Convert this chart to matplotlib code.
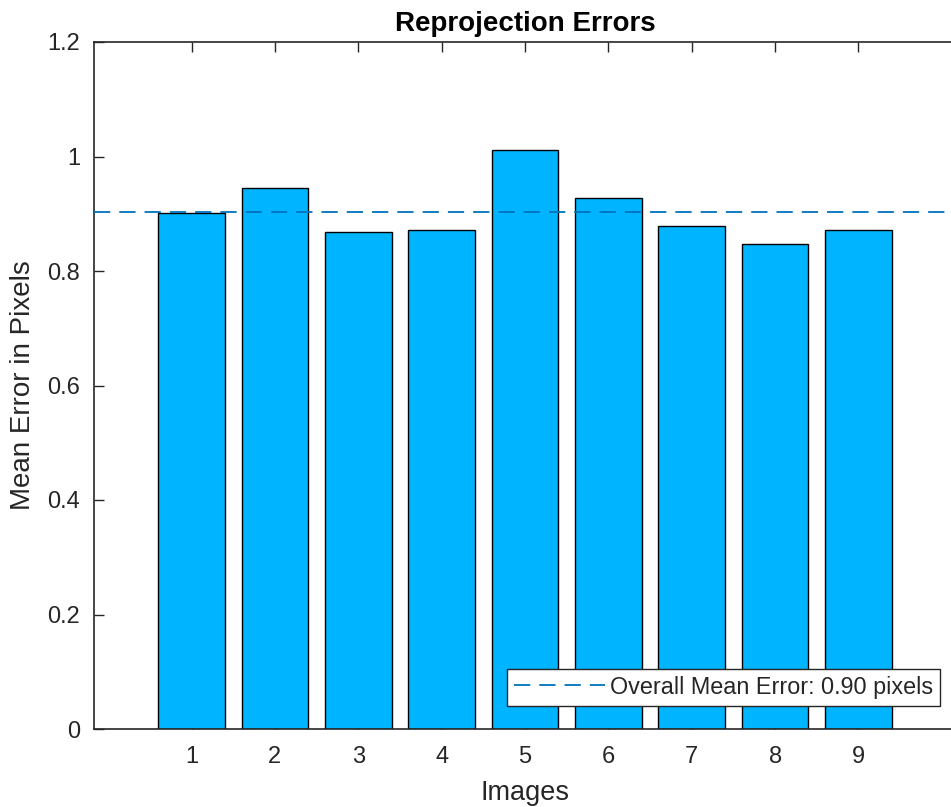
import matplotlib
matplotlib.use("Agg")
import matplotlib.pyplot as plt
from matplotlib.ticker import FuncFormatter

# Erros médios de reprojeção por imagem
imagens = [1, 2, 3, 4, 5, 6, 7, 8, 9]
erros = [0.901, 0.945, 0.868, 0.872, 1.011, 0.927, 0.879, 0.847, 0.872]
erro_medio = 0.903

plt.rcParams['font.family'] = ['Liberation Sans', 'DejaVu Sans']
cinza = '#262626'

fig = plt.figure(figsize=(9.51, 8.07), dpi=100)
ax = fig.add_axes([94 / 951, 78 / 807, 862 / 951, 687 / 807])

ax.bar(imagens, erros, width=0.8, color='#00B4FF', edgecolor='black', linewidth=1.0, zorder=2)
ax.axhline(erro_medio, color='#0072BD', linestyle=(0, (9, 5)), linewidth=1.3, zorder=3,
           label='Overall Mean Error: %.2f pixels' % erro_medio)

ax.set_xlim(-0.17, 10.17)
ax.set_ylim(0, 1.2)
ax.set_xticks(imagens)
ax.set_yticks([0, 0.2, 0.4, 0.6, 0.8, 1, 1.2])
ax.yaxis.set_major_formatter(FuncFormatter(lambda v, p: '%g' % v))

ax.tick_params(direction='in', length=7, width=1, colors=cinza, labelsize=17,
               top=True, right=False, pad=10)
ax.tick_params(axis='x', pad=12)
for s in ax.spines.values():
    s.set_color(cinza)
    s.set_linewidth(1.2)

ax.set_xlabel('Images', fontsize=19.5, color=cinza, labelpad=9)
ax.set_ylabel('Mean Error in Pixels', fontsize=20, color=cinza, labelpad=8)
ax.set_title('Reprojection Errors', fontsize=20, fontweight='bold', color='black', pad=8)

leg = ax.legend(loc='lower right', bbox_to_anchor=(0.982, 0.034), fontsize=16.8,
                frameon=True, fancybox=False, handlelength=3.9, handletextpad=0.25,
                borderpad=0.3, borderaxespad=0, labelcolor=cinza)
leg.get_frame().set_edgecolor(cinza)
leg.get_frame().set_linewidth(1.0)
leg.get_frame().set_alpha(1)

plt.savefig('out.png', dpi=100)
